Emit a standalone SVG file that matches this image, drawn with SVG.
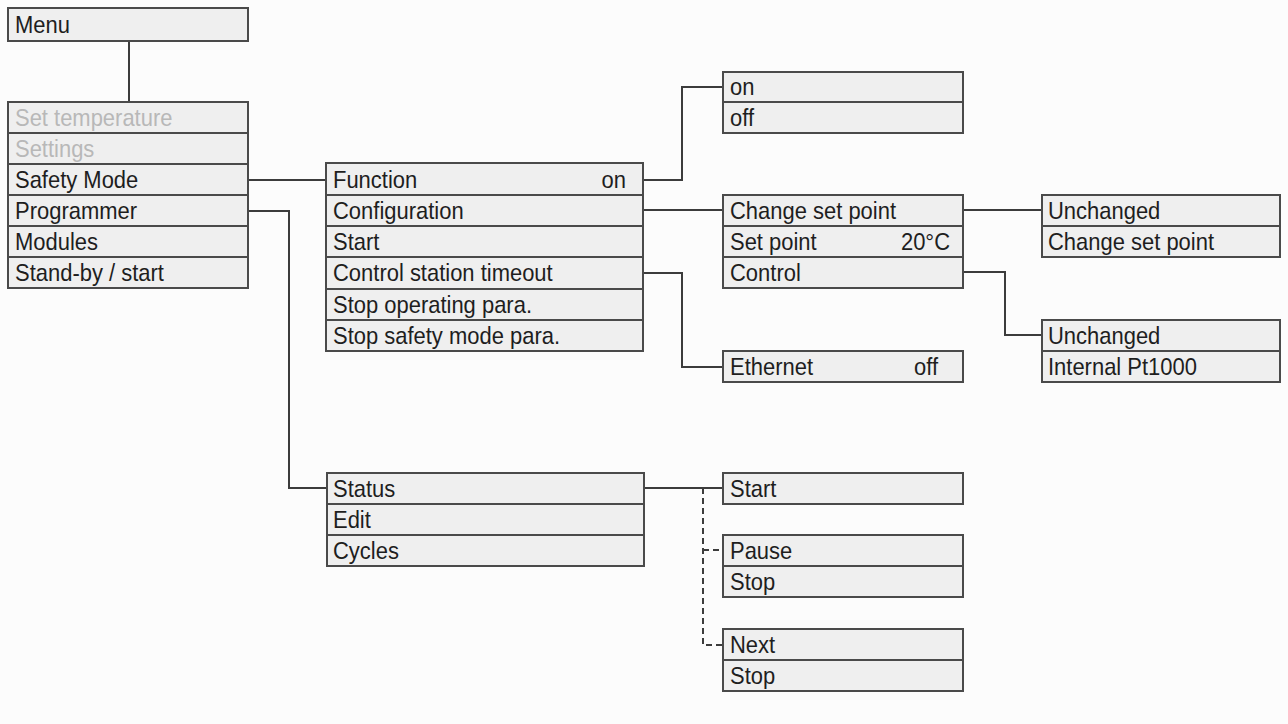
<svg xmlns="http://www.w3.org/2000/svg" width="1288" height="724" viewBox="0 0 1288 724">
<style>
.row{fill:#efefef;stroke:#4a4a4a;stroke-width:2}
.t{font-family:"Liberation Sans",Arial,sans-serif;font-size:24px;fill:#1e1e1e}
.g{fill:#b8b8b8}
.e{text-anchor:end}
.c{fill:none;stroke:#3c3c3c;stroke-width:2}
.d{fill:none;stroke:#3c3c3c;stroke-width:2;stroke-dasharray:6 4}
</style>
<rect width="1288" height="724" fill="#fcfcfc"/>
<g id="connectors">
<path class="c" d="M129 41V102"/>
<path class="c" d="M248 180H326"/>
<path class="c" d="M248 211H289V488H327"/>
<path class="c" d="M643 180H682V87H723"/>
<path class="c" d="M643 210H723"/>
<path class="c" d="M643 273H682V367H723"/>
<path class="c" d="M963 210H1042"/>
<path class="c" d="M963 272H1005V335H1042"/>
<path class="c" d="M644 488H723"/>
<path class="d" d="M703 488V645H723"/>
<path class="d" d="M703 550H723"/>
</g>
<g id="menu">
<rect class="row" x="8" y="8" width="240" height="33"/>
<text class="t" transform="translate(15 33) scale(0.915 1)">Menu</text>
</g>
<g id="main-menu">
<rect class="row" x="8" y="102" width="240" height="31"/>
<rect class="row" x="8" y="133" width="240" height="31"/>
<rect class="row" x="8" y="164" width="240" height="31"/>
<rect class="row" x="8" y="195" width="240" height="31"/>
<rect class="row" x="8" y="226" width="240" height="31"/>
<rect class="row" x="8" y="257" width="240" height="31"/>
<text class="t g" transform="translate(15 126) scale(0.915 1)">Set temperature</text>
<text class="t g" transform="translate(15 157) scale(0.915 1)">Settings</text>
<text class="t" transform="translate(15 188) scale(0.915 1)">Safety Mode</text>
<text class="t" transform="translate(15 219) scale(0.915 1)">Programmer</text>
<text class="t" transform="translate(15 250) scale(0.915 1)">Modules</text>
<text class="t" transform="translate(15 281) scale(0.915 1)">Stand-by / start</text>
</g>
<g id="safety-mode">
<rect class="row" x="326" y="163" width="317" height="32"/>
<rect class="row" x="326" y="195" width="317" height="31"/>
<rect class="row" x="326" y="226" width="317" height="31"/>
<rect class="row" x="326" y="257" width="317" height="32"/>
<rect class="row" x="326" y="289" width="317" height="31"/>
<rect class="row" x="326" y="320" width="317" height="31"/>
<text class="t" transform="translate(333 188) scale(0.915 1)">Function</text>
<text class="t e" transform="translate(626 188) scale(0.915 1)">on</text>
<text class="t" transform="translate(333 219) scale(0.915 1)">Configuration</text>
<text class="t" transform="translate(333 250) scale(0.915 1)">Start</text>
<text class="t" transform="translate(333 281) scale(0.915 1)">Control station timeout</text>
<text class="t" transform="translate(333 313) scale(0.915 1)">Stop operating para.</text>
<text class="t" transform="translate(333 344) scale(0.915 1)">Stop safety mode para.</text>
</g>
<g id="function-options">
<rect class="row" x="723" y="72" width="240" height="30"/>
<rect class="row" x="723" y="102" width="240" height="31"/>
<text class="t" transform="translate(730 95) scale(0.915 1)">on</text>
<text class="t" transform="translate(730 126) scale(0.915 1)">off</text>
</g>
<g id="configuration">
<rect class="row" x="723" y="195" width="240" height="31"/>
<rect class="row" x="723" y="226" width="240" height="31"/>
<rect class="row" x="723" y="257" width="240" height="31"/>
<text class="t" transform="translate(730 219) scale(0.915 1)">Change set point</text>
<text class="t" transform="translate(730 250) scale(0.915 1)">Set point</text>
<text class="t e" transform="translate(950 250) scale(0.915 1)">20°C</text>
<text class="t" transform="translate(730 281) scale(0.915 1)">Control</text>
</g>
<g id="ethernet">
<rect class="row" x="723" y="351" width="240" height="31"/>
<text class="t" transform="translate(730 375) scale(0.915 1)">Ethernet</text>
<text class="t e" transform="translate(938 375) scale(0.915 1)">off</text>
</g>
<g id="change-set-point-options">
<rect class="row" x="1042" y="195" width="238" height="31"/>
<rect class="row" x="1042" y="226" width="238" height="31"/>
<text class="t" transform="translate(1048 219) scale(0.915 1)">Unchanged</text>
<text class="t" transform="translate(1048 250) scale(0.915 1)">Change set point</text>
</g>
<g id="control-options">
<rect class="row" x="1042" y="320" width="238" height="31"/>
<rect class="row" x="1042" y="351" width="238" height="31"/>
<text class="t" transform="translate(1048 344) scale(0.915 1)">Unchanged</text>
<text class="t" transform="translate(1048 375) scale(0.915 1)">Internal Pt1000</text>
</g>
<g id="programmer">
<rect class="row" x="327" y="473" width="317" height="31"/>
<rect class="row" x="327" y="504" width="317" height="31"/>
<rect class="row" x="327" y="535" width="317" height="31"/>
<text class="t" transform="translate(333 497) scale(0.915 1)">Status</text>
<text class="t" transform="translate(333 528) scale(0.915 1)">Edit</text>
<text class="t" transform="translate(333 559) scale(0.915 1)">Cycles</text>
</g>
<g id="status-start">
<rect class="row" x="723" y="473" width="240" height="31"/>
<text class="t" transform="translate(730 497) scale(0.915 1)">Start</text>
</g>
<g id="status-pause">
<rect class="row" x="723" y="535" width="240" height="31"/>
<rect class="row" x="723" y="566" width="240" height="31"/>
<text class="t" transform="translate(730 559) scale(0.915 1)">Pause</text>
<text class="t" transform="translate(730 590) scale(0.915 1)">Stop</text>
</g>
<g id="status-next">
<rect class="row" x="723" y="629" width="240" height="31"/>
<rect class="row" x="723" y="660" width="240" height="31"/>
<text class="t" transform="translate(730 653) scale(0.915 1)">Next</text>
<text class="t" transform="translate(730 684) scale(0.915 1)">Stop</text>
</g>
</svg>
